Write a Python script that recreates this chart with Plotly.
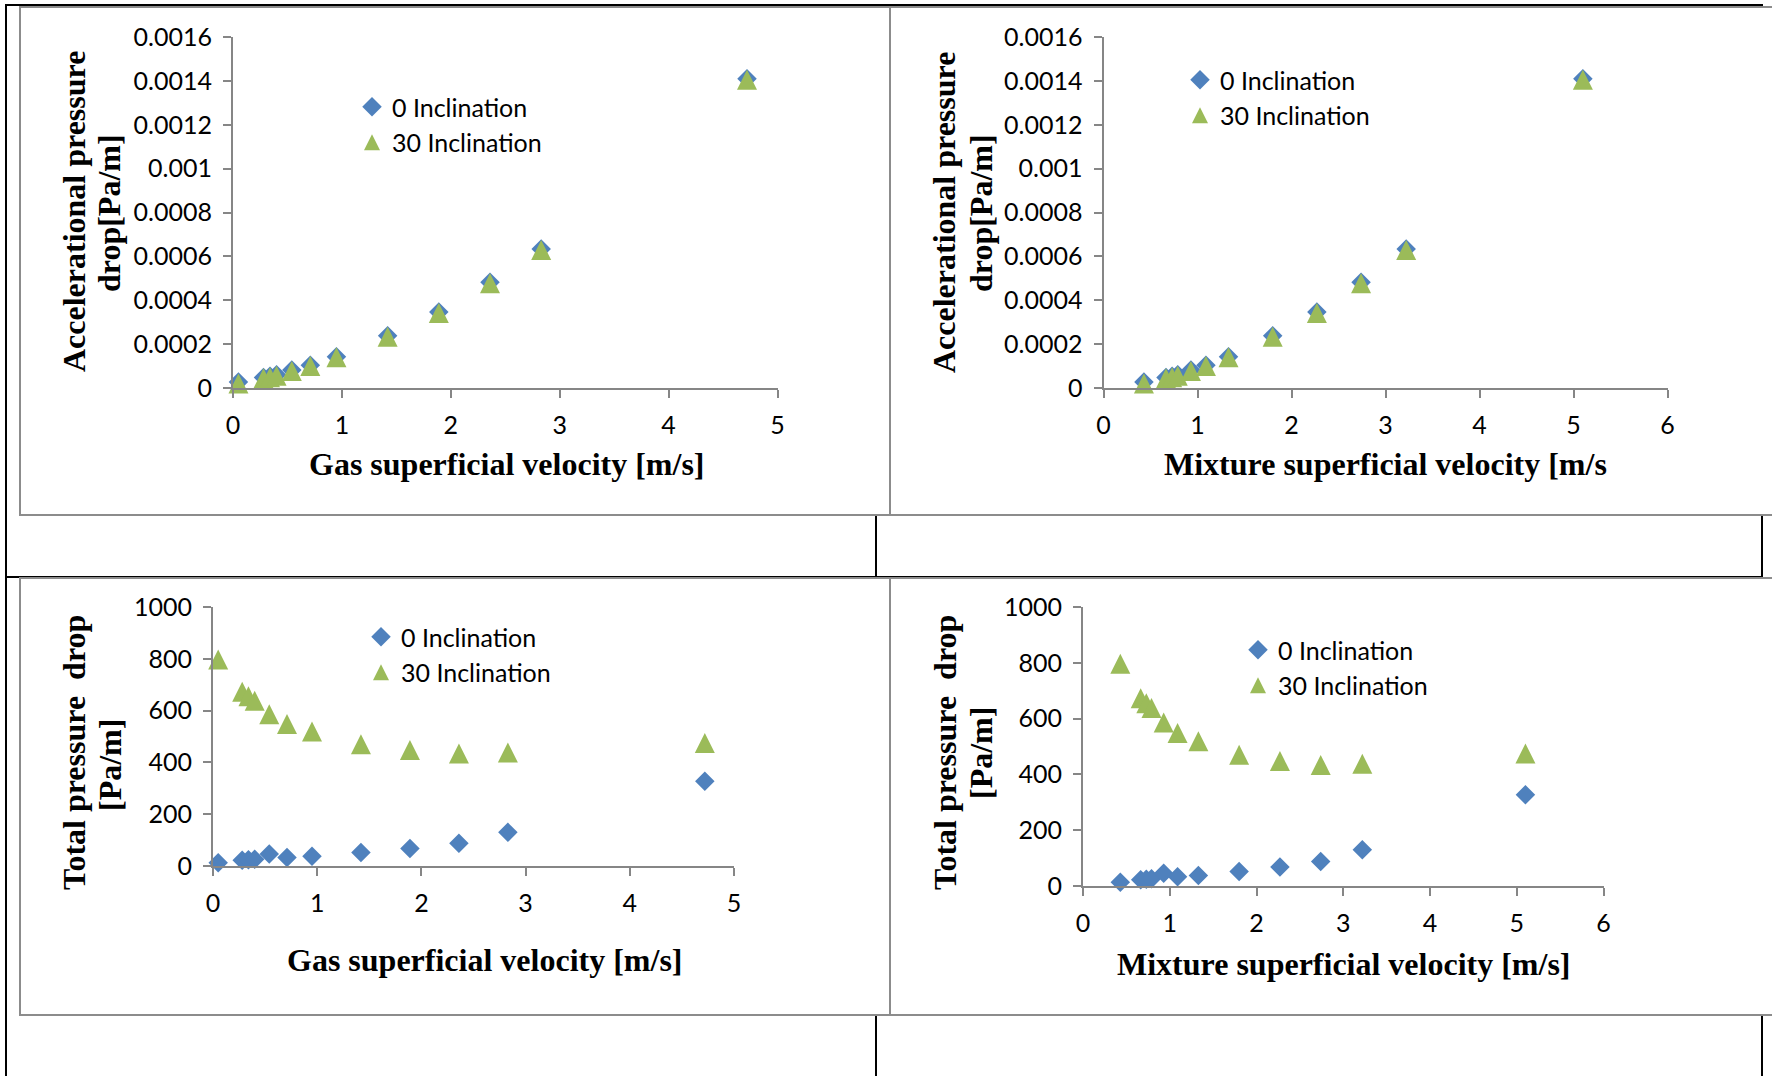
import plotly.graph_objects as go

W, H = 1772, 1076

# Superficial velocities [m/s]
gas_velocity = [0.05, 0.28, 0.34, 0.40, 0.54, 0.71, 0.95, 1.42, 1.89, 2.36, 2.83, 4.72]
mixture_velocity = [0.43, 0.665, 0.73, 0.79, 0.93, 1.09, 1.33, 1.80, 2.27, 2.74, 3.22, 5.10]

# Accelerational pressure drop [Pa/m]
accel_0_incl = [0.000027, 0.000048, 0.000053, 0.000060, 0.000082, 0.000104,
                0.000143, 0.000238, 0.000347, 0.000482, 0.000634, 0.001410]
accel_30_incl = [0.000021, 0.000044, 0.000049, 0.000056, 0.000078, 0.000100,
                 0.000140, 0.000234, 0.000342, 0.000477, 0.000629, 0.001405]

# Total pressure drop [Pa/m]
total_0_incl = [13, 22, 24, 26, 46, 33, 38, 52, 68, 88, 130, 327]
total_30_incl = [797, 673, 655, 638, 586, 548, 519, 470, 448, 434, 438, 475]

series_names = ["0 Inclination", "30 Inclination"]

accel_tickvals = [0, 0.0002, 0.0004, 0.0006, 0.0008, 0.001, 0.0012, 0.0014, 0.0016]
accel_ticktext = ["0", "0.0002", "0.0004", "0.0006", "0.0008", "0.001", "0.0012", "0.0014", "0.0016"]
total_tickvals = [0, 200, 400, 600, 800, 1000]
total_ticktext = ["0", "200", "400", "600", "800", "1000"]
gas_tickvals = [0, 1, 2, 3, 4, 5]
mix_tickvals = [0, 1, 2, 3, 4, 5, 6]

BLUE = "#4F81BD"
GREEN = "#9BBB59"
AXIS_GRAY = "#868686"
BOX_GRAY = "#8c8c8c"
TICK_FONT = "Lato, 'Liberation Sans', sans-serif"
TITLE_FONT = "'Liberation Serif', 'Times New Roman', serif"


def fx(px):
    return px / W


def fy(py):
    return 1 - py / H


# panel definitions: plot-area pixel boxes (left, right, bottom, top)
panels = [
    dict(x=gas_velocity, y0=accel_0_incl, y30=accel_30_incl, box=(233, 777.5, 388, 37),
         xr=[0, 5], yr=[0, 0.0016], xt=gas_tickvals, yt=accel_tickvals, ytt=accel_ticktext,
         legend=(352, 84)),
    dict(x=mixture_velocity, y0=accel_0_incl, y30=accel_30_incl, box=(1103.5, 1667.5, 388, 37),
         xr=[0, 6], yr=[0, 0.0016], xt=mix_tickvals, yt=accel_tickvals, ytt=accel_ticktext,
         legend=(1180, 57)),
    dict(x=gas_velocity, y0=total_0_incl, y30=total_30_incl, box=(213, 734, 866, 607),
         xr=[0, 5], yr=[0, 1000], xt=gas_tickvals, yt=total_tickvals, ytt=total_ticktext,
         legend=(361, 614)),
    dict(x=mixture_velocity, y0=total_0_incl, y30=total_30_incl, box=(1083, 1603.5, 886, 607),
         xr=[0, 6], yr=[0, 1000], xt=mix_tickvals, yt=total_tickvals, ytt=total_ticktext,
         legend=(1238, 627)),
]

fig = go.Figure()
layout = dict(
    width=W, height=H,
    margin=dict(l=0, r=0, t=0, b=0, autoexpand=False),
    paper_bgcolor="white",
    plot_bgcolor="rgba(0,0,0,0)",
    showlegend=True,
)

tri_marker = dict(color=GREEN, line=dict(width=0))
for i, p in enumerate(panels, start=1):
    sfx = "" if i == 1 else str(i)
    legend_name = "legend" if i == 1 else f"legend{i}"
    xa, ya = f"x{sfx}", f"y{sfx}"
    fig.add_trace(go.Scatter(
        x=p["x"], y=p["y0"], mode="markers", name=series_names[0],
        xaxis=xa, yaxis=ya, legend=legend_name, cliponaxis=False,
        marker=dict(symbol="diamond", size=15, color=BLUE, line=dict(width=0)),
    ))
    # upward triangle centred on each point (rotated arrow shifted by half its height)
    fig.add_trace(go.Scatter(
        x=p["x"], y=p["y30"], mode="markers", name=series_names[1],
        xaxis=xa, yaxis=ya, legend=legend_name, cliponaxis=False,
        showlegend=False, legendgroup=f"incl30_{i}",
        marker=dict(symbol="arrow-down", angle=180, standoff=10, size=20, **tri_marker),
    ))
    # legend entry for the triangle series (legend glyphs apply the standoff upward)
    fig.add_trace(go.Scatter(
        x=[None], y=[None], mode="markers", name=series_names[1],
        xaxis=xa, yaxis=ya, legend=legend_name, legendgroup=f"incl30_{i}",
        marker=dict(symbol="arrow-up", standoff=8, size=16, **tri_marker),
    ))
    left, right, bottom, top = p["box"]
    common = dict(showline=True, linecolor=AXIS_GRAY, linewidth=2, ticks="outside",
                  ticklen=8, tickwidth=2, tickcolor=AXIS_GRAY, showgrid=False,
                  zeroline=False, fixedrange=True, ticklabelstandoff=6,
                  tickfont=dict(family=TICK_FONT, size=25, color="black"))
    layout[f"xaxis{sfx}"] = dict(domain=[fx(left), fx(right)], range=p["xr"],
                                 tickvals=p["xt"], ticktext=[str(v) for v in p["xt"]],
                                 anchor=ya, **common)
    layout[f"yaxis{sfx}"] = dict(domain=[fy(bottom), fy(top)], range=p["yr"],
                                 tickvals=p["yt"], ticktext=p["ytt"],
                                 anchor=xa, **common)
    lx, ly = p["legend"]
    layout[legend_name] = dict(x=fx(lx), y=fy(ly), xanchor="left", yanchor="top",
                               bgcolor="rgba(0,0,0,0)", borderwidth=0, tracegroupgap=0,
                               font=dict(family=TICK_FONT, size=25, color="black"))

# table grid lines behind the chart frames
shapes = []
black = dict(color="black", width=2)
for x0, y0, x1, y1 in [(5, 5, 1763, 5), (6, 5, 6, 1080), (876, 5, 876, 1080),
                       (1762, 5, 1762, 1080), (5, 577, 1763, 577)]:
    shapes.append(dict(type="line", xref="paper", yref="paper", layer="below",
                       x0=fx(x0), y0=fy(y0), x1=fx(x1), y1=fy(y1), line=black))
# chart frames
for x0, y0, x1, y1 in [(20, 7, 890, 515), (890, 7, 1780, 515),
                       (20, 578, 890, 1015), (890, 578, 1780, 1015)]:
    shapes.append(dict(type="rect", xref="paper", yref="paper", layer="below",
                       x0=fx(x0), y0=fy(y0), x1=fx(x1), y1=fy(y1),
                       fillcolor="white", line=dict(color=BOX_GRAY, width=2)))
layout["shapes"] = shapes

title_font = dict(family=TITLE_FONT, size=32, color="black", weight="bold")
annotations = []
# x-axis titles
for text, cx, cy in [("Gas superficial velocity [m/s]", 506, 464),
                     ("Mixture superficial velocity [m/s", 1385, 464),
                     ("Gas superficial velocity [m/s]", 484, 960),
                     ("Mixture superficial velocity [m/s]", 1344, 964)]:
    annotations.append(dict(text=text, x=fx(cx), y=fy(cy), xref="paper", yref="paper",
                            xanchor="center", yanchor="middle", showarrow=False,
                            font=title_font))
# y-axis titles, two lines each
for text, cx, cy in [("Accelerational pressure", 74, 212), ("drop[Pa/m]", 109, 213),
                     ("Accelerational pressure", 944, 212), ("drop[Pa/m]", 981, 213),
                     ("Total pressure\u00a0 drop", 74, 753), ("[Pa/m]", 110, 765),
                     ("Total pressure\u00a0 drop", 945, 753), ("[Pa/m]", 981, 753)]:
    annotations.append(dict(text=text, x=fx(cx), y=fy(cy), xref="paper", yref="paper",
                            xanchor="center", yanchor="middle", showarrow=False,
                            textangle=-90, font=title_font))
layout["annotations"] = annotations

fig.update_layout(**layout)
fig.write_html("out.html")
